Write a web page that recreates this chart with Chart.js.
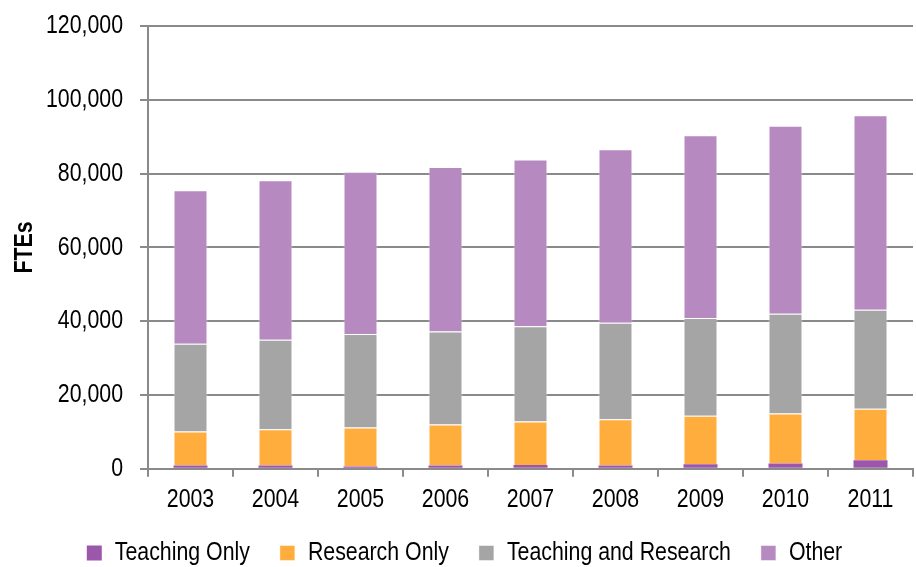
<!DOCTYPE html>
<html>
<head>
<meta charset="utf-8">
<script src="https://cdn.jsdelivr.net/npm/chart.js@4.4.1/dist/chart.umd.min.js"></script>
<style>
  html, body { margin: 0; padding: 0; background: #fff; }
  #wrap { width: 916px; height: 567px; position: relative; }
</style>
</head>
<body>
<div id="wrap"><canvas id="c" width="916" height="567"></canvas></div>
<script>
// Staff full-time equivalents by work function, 2003–2011
const years = ['2003', '2004', '2005', '2006', '2007', '2008', '2009', '2010', '2011'];
const teachingOnly = [900, 900, 600, 900, 1000, 900, 1200, 1450, 2300];
const researchOnly = [9200, 9800, 10600, 11100, 11800, 12500, 13200, 13550, 14000];
const teachingAndResearch = [23800, 24300, 25300, 25200, 25800, 26200, 26500, 27000, 26800];
const other = [41600, 43200, 44000, 44600, 45200, 47000, 49500, 51000, 52700];
const yTicks = [0, 20000, 40000, 60000, 80000, 100000, 120000];

const FONT = '"Liberation Sans", Arial, sans-serif';
const AXIS = '#8a8a8a';

// Narrow lettering: squeeze every text run horizontally about its anchor,
// and report the squeezed width so layout and legend spacing agree.
const canvas = document.getElementById('c');
const g = canvas.getContext('2d');
const SQUEEZE = 0.82;
const rawFill = g.fillText.bind(g);
const rawMeasure = g.measureText.bind(g);
g.fillText = function (t, x, y) {
  g.save();
  g.translate(x, y);
  g.scale(SQUEEZE, 1);
  rawFill(t, 0, 0);
  g.restore();
};
g.measureText = function (t) {
  const m = rawMeasure(t);
  return {
    width: m.width * SQUEEZE,
    actualBoundingBoxAscent: m.actualBoundingBoxAscent,
    actualBoundingBoxDescent: m.actualBoundingBoxDescent,
    actualBoundingBoxLeft: m.actualBoundingBoxLeft * SQUEEZE,
    actualBoundingBoxRight: m.actualBoundingBoxRight * SQUEEZE
  };
};

const ds = (label, data, color, edge) => ({
  label, data,
  backgroundColor: color,
  borderColor: 'rgba(255,255,255,0.45)',
  borderWidth: edge,
  categoryPercentage: 0.8,
  barPercentage: 0.5
});

new Chart(canvas, {
  type: 'bar',
  data: {
    labels: years,
    datasets: [
      ds('Teaching Only', teachingOnly, '#9b57a9', 0),
      ds('Research Only', researchOnly, '#ffad3c', 1),
      ds('Teaching and Research', teachingAndResearch, '#a5a5a5', 1),
      ds('Other', other, '#b689c0', 1)
    ]
  },
  options: {
    responsive: false,
    animation: false,
    layout: { padding: { top: 26, right: 3, left: 16, bottom: -9 } },
    plugins: {
      tooltip: { enabled: false },
      legend: {
        position: 'bottom',
        labels: {
          font: { family: FONT, size: 26 },
          color: '#000',
          boxWidth: 15,
          boxHeight: 15,
          padding: 30
        }
      }
    },
    scales: {
      x: {
        stacked: true,
        offset: true,
        afterFit: s => { s.height -= 12; s.paddingLeft = 0; s.paddingRight = 0; },
        grid: { drawOnChartArea: false, drawTicks: true, tickLength: 8, color: AXIS, lineWidth: 2 },
        border: { color: AXIS, width: 2 },
        ticks: { font: { family: FONT, size: 26 }, color: '#000', padding: 7 }
      },
      y: {
        stacked: true,
        min: 0,
        max: 120000,
        afterBuildTicks: s => { s.ticks = yTicks.map(v => ({ value: v })); },
        afterFit: s => { s.width = 132; s.paddingTop = 0; s.paddingBottom = 0; },
        grid: { color: AXIS, lineWidth: 2, tickLength: 8 },
        border: { color: AXIS, width: 2 },
        ticks: {
          font: { family: FONT, size: 26 },
          color: '#000',
          padding: 17,
          callback: v => v.toLocaleString('en-US')
        },
        title: {
          display: true,
          text: 'FTEs',
          font: { family: FONT, size: 26, weight: 'bold' },
          color: '#000',
          padding: { top: -7, bottom: 0 }
        }
      }
    }
  }
});
</script>
</body>
</html>
